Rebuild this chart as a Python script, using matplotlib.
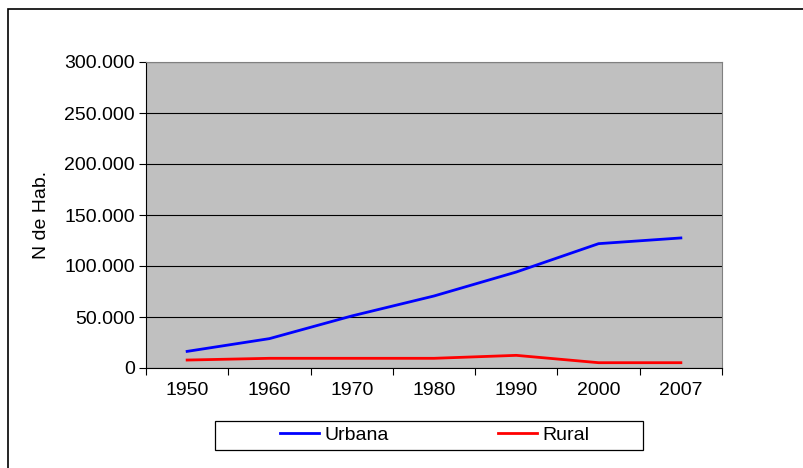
import matplotlib.pyplot as plt
from matplotlib.patches import Rectangle
from matplotlib.ticker import FuncFormatter, MultipleLocator
import numpy as np

plt.rcParams['font.family'] = ['Liberation Sans', 'DejaVu Sans']

anos = ['1950', '1960', '1970', '1980', '1990', '2000', '2007']
urbana = [16300, 28800, 51000, 70600, 94100, 121900, 127500]
rural = [7800, 9500, 9500, 9500, 12400, 5200, 5200]

fig = plt.figure(figsize=(8.04, 4.68), dpi=100)
ax = fig.add_axes([146/804, 100/468, 576/804, 306/468])

x = np.arange(len(anos))
ax.set_facecolor('#c0c0c0')
ax.plot(x, urbana, color='#0000ff', lw=2, label='Urbana', zorder=3)
ax.plot(x, rural, color='#ff0000', lw=2, label='Rural', zorder=3)

ax.set_xlim(-0.5, len(anos) - 0.5)
ax.set_ylim(0, 300000)
ax.yaxis.set_major_locator(MultipleLocator(50000))
ax.yaxis.set_major_formatter(FuncFormatter(lambda v, p: f'{int(v):,}'.replace(',', '.')))
ax.set_xticks(x)
ax.set_xticklabels(anos)
ax.set_xticks(np.arange(len(anos) + 1) - 0.5, minor=True)
ax.tick_params(axis='x', which='major', length=0, pad=10, labelsize=14)
ax.tick_params(axis='x', which='minor', length=5, direction='out', width=0.8)
ax.tick_params(axis='y', length=5, direction='out', width=0.8, labelsize=14, pad=3)
ax.grid(axis='y', color='black', lw=0.8, zorder=1)
ax.set_axisbelow(True)
for s in ['top', 'right']:
    ax.spines[s].set_color('#808080')
    ax.spines[s].set_linewidth(0.8)
for s in ['left', 'bottom']:
    ax.spines[s].set_color('black')
    ax.spines[s].set_linewidth(0.8)
ax.set_ylabel('N de Hab.', fontsize=14, labelpad=10)

# outer chart border
fig.patches.append(Rectangle((8/804, -0.1), 1.2, 1 - 9/468 + 0.1, transform=fig.transFigure,
                             fill=False, ec='black', lw=1.2))
# legend box
fig.patches.append(Rectangle((215/804, 18/468), 428/804, 29/468, transform=fig.transFigure,
                             fill=False, ec='black', lw=0.9))
fig.legend(loc='center', bbox_to_anchor=(435/804, 33/468), ncol=2, frameon=False,
           fontsize=14, handlelength=2.0, handletextpad=0.3, columnspacing=5.6,
           borderpad=0, borderaxespad=0)

fig.savefig('out.png', dpi=100)
